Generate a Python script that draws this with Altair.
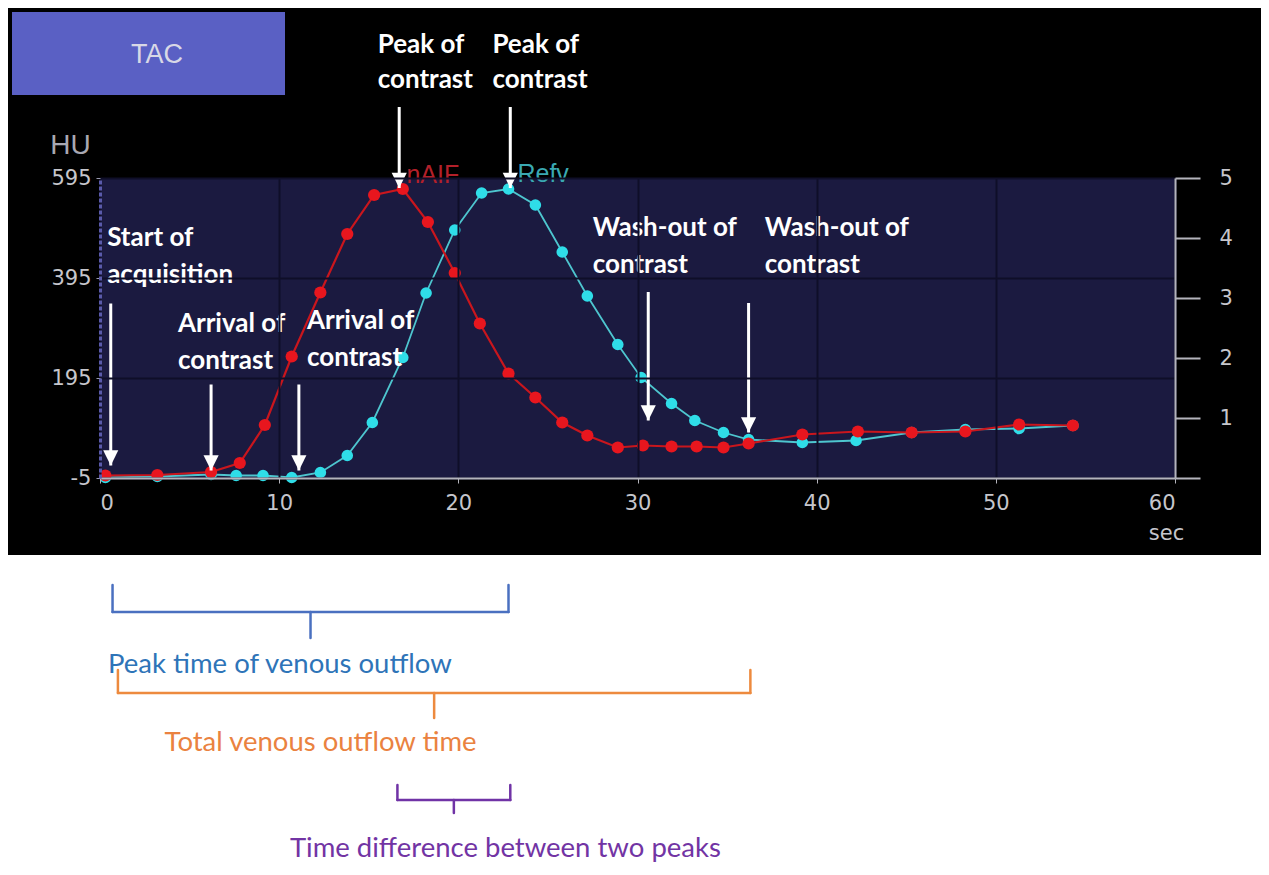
import altair as alt
import pandas as pd

# ---------------- data ----------------
t_naif = [0.3, 3.2, 6.2, 7.8, 9.2, 10.7, 12.3, 13.8, 15.3, 16.9, 18.3, 19.8, 21.2, 22.8, 24.3,
          25.8, 27.2, 28.9, 30.3, 31.9, 33.3, 34.8, 36.2, 39.2, 42.3, 45.3, 48.3, 51.3, 54.3]
hu_naif = [0, 1, 7, 25, 101, 238, 366, 483, 561, 573, 507, 405, 304, 204, 156,
           106, 80, 56, 60, 58, 58, 56, 64, 82, 88, 86, 88, 102, 100]

t_refv = [0.3, 3.2, 6.2, 7.6, 9.1, 10.7, 12.3, 13.8, 15.2, 16.9, 18.2, 19.8, 21.3, 22.8, 24.3,
          25.8, 27.2, 28.9, 30.2, 31.9, 33.2, 34.8, 36.2, 39.2, 42.2, 45.3, 48.3, 51.3, 54.3]
hu_refv = [-4, -2, 2, 0, 0, -4, 6, 40, 106, 236, 365, 491, 565, 573, 541,
           447, 359, 262, 196, 144, 110, 86, 72, 66, 70, 86, 92, 94, 100]

x_ticks = [0, 10, 20, 30, 40, 50, 60]
hu_ticks = [-5, 195, 395, 595]
right_ticks = [0, 1, 2, 3, 4, 5]

series_names = ["nAIF", "Refv"]
series_label_t = [17.1, 23.3]
series_label_hu = [602, 604]

arrow_t = [0.6, 6.2, 11.1, 16.7, 22.9, 30.6, 36.2]
arrow_tip = [20, 10, 10, 575, 575, 110, 86]
arrow_top = [344, 182, 182, 737, 737, 367, 345]

ann_text = ["Start of", "acquisition", "Arrival of", "contrast", "Arrival of", "contrast",
            "Peak of", "contrast", "Peak of", "contrast", "Wash-out of", "contrast",
            "Wash-out of", "contrast"]
ann_t = [0.4, 0.4, 4.35, 4.35, 11.55, 11.55, 15.5, 15.5, 21.9, 21.9, 27.5, 27.5, 37.1, 37.1]
ann_hu = [475, 401, 304, 230, 310, 236, 861, 791, 861, 791, 495, 421, 495, 421]

bracket_start = [0.7, 1.0, 16.6]
bracket_end = [22.8, 36.3, 22.9]
bracket_caption = ["Peak time of venous outflow", "Total venous outflow time",
                   "Time difference between two peaks"]
caption_t = [0.45, 3.6, 10.6]

# ---------------- styling ----------------
W, H = 1075, 300
NAVY = "#1b1a40"
GRID = "#0f0e28"
AXIS_GREY = "#b4b4bc"
LABEL_GREY = "#c6c6cc"

naif_df = pd.DataFrame({"t": t_naif, "hu": hu_naif})
refv_df = pd.DataFrame({"t": t_refv, "hu": hu_refv})
lab_df = pd.DataFrame({"t": series_label_t, "hu": series_label_hu, "name": series_names})
arrow_df = pd.DataFrame({"t": arrow_t, "tip": arrow_tip, "top": arrow_top})
ann_df = pd.DataFrame({"t": ann_t, "hu": ann_hu, "txt": ann_text})

xscale = alt.Scale(domain=[0, 60], nice=False, zero=False)
yscale = alt.Scale(domain=[-5, 595], nice=False, zero=False)

x_axis = alt.Axis(values=x_ticks, grid=True, gridColor=GRID, gridWidth=2,
                  domainColor=AXIS_GREY, domainWidth=2, tickColor=AXIS_GREY, tickSize=5,
                  labelColor=LABEL_GREY, labelFont="DejaVu Sans", labelFontSize=21,
                  labelPadding=9, title="sec", titleColor=LABEL_GREY, titleFont="DejaVu Sans",
                  titleFontSize=21, titleFontWeight="normal", titleX=1066, titleY=55,
                  titleAlign="center", titleBaseline="middle", zindex=1)
y_axis = alt.Axis(values=hu_ticks, grid=True, gridColor=GRID, gridWidth=2,
                  domainColor="#5a5aaa", domainWidth=3, domainDash=[4, 2],
                  tickColor="#9a9ab0", tickSize=4, labelColor=LABEL_GREY,
                  labelFont="DejaVu Sans", labelFontSize=21, labelPadding=5,
                  labelExpr="'' + datum.value",
                  title="HU", titleAngle=0, titleX=-30, titleY=-33, titleAlign="center",
                  titleBaseline="middle", titleFont="Liberation Sans", titleFontSize=28,
                  titleFontWeight="normal", titleColor="#a8a8b2", zindex=1)

X = alt.X("t:Q", scale=xscale, axis=x_axis)
Y = alt.Y("hu:Q", scale=yscale, axis=y_axis)

# backgrounds (black panel = chart background); white lower area
white_low = alt.Chart(pd.DataFrame({"a": [0]})).mark_rect(color="white").encode(
    x=alt.value(-120), x2=alt.value(1200), y=alt.value(377), y2=alt.value(720))
tac_box = alt.Chart(pd.DataFrame({"a": [0]})).mark_rect(color="#5a60c4").encode(
    x=alt.value(-88), x2=alt.value(185), y=alt.value(-166), y2=alt.value(-83))
tac_text = alt.Chart(pd.DataFrame({"txt": ["TAC"]})).mark_text(
    font="Liberation Sans", fontSize=27, color="#d8d8e6", baseline="middle", align="center"
).encode(x=alt.value(57), y=alt.value(-123), text="txt:N")

refv_line = alt.Chart(refv_df).mark_line(color="#4ec6cf", strokeWidth=1.8).encode(x=X, y=Y)
refv_pts = alt.Chart(refv_df).mark_point(filled=True, color="#2fdde8", size=135, opacity=1).encode(x=X, y=Y)
naif_line = alt.Chart(naif_df).mark_line(color="#c9161d", strokeWidth=2.2).encode(x=X, y=Y)
naif_pts = alt.Chart(naif_df).mark_point(filled=True, color="#e8161e", size=150, opacity=1).encode(x=X, y=Y)

labels = alt.Chart(lab_df).mark_text(font="Liberation Sans", fontSize=25, align="left",
                                     baseline="middle").encode(
    x=X, y=Y, text="name:N",
    color=alt.Color("name:N", scale=alt.Scale(domain=series_names, range=["#b3202a", "#3aa9b2"]),
                    legend=None))

shafts = alt.Chart(arrow_df).mark_rule(color="white", strokeWidth=3).encode(
    x=X, y=alt.Y("tip:Q", scale=yscale, axis=y_axis), y2="top:Q")
heads = alt.Chart(arrow_df).mark_point(shape="M-1,-2L1,-2L0,0Z", filled=True, color="white",
                                       size=230, opacity=1).encode(
    x=X, y=alt.Y("tip:Q", scale=yscale, axis=y_axis))

ann = alt.Chart(ann_df).mark_text(font="Lato", fontSize=26, fontWeight="bold", color="white",
                                  align="left", baseline="middle").encode(x=X, y=Y, text="txt:N")

# brackets under the panel
bracket_colors = ["#4a70c0", "#ed8a3e", "#7033a6"]
caption_colors = ["#2e74b8", "#ea8240", "#7234a4"]
bracket_px = [(407, 434, 460, 487), (492, 515, 540, 565), (607, 622, 635, 671)]
bracket_layers = []
for i in range(3):
    top, bot, tip, cy = bracket_px[i]
    bdf = pd.DataFrame({"start": [bracket_start[i]], "end": [bracket_end[i]],
                        "cap": [bracket_caption[i]], "capt": [caption_t[i]]})
    base = alt.Chart(bdf).transform_calculate(mid="(datum.start + datum.end) / 2")
    rule = dict(color=bracket_colors[i], strokeWidth=2.5, strokeCap="round")
    bracket_layers += [
        base.mark_rule(**rule).encode(x=alt.X("start:Q", scale=xscale, axis=x_axis), x2="end:Q",
                                      y=alt.value(bot)),
        base.mark_rule(**rule).encode(x=alt.X("start:Q", scale=xscale, axis=x_axis),
                                      y=alt.value(top), y2=alt.value(bot)),
        base.mark_rule(**rule).encode(x=alt.X("end:Q", scale=xscale, axis=x_axis),
                                      y=alt.value(top), y2=alt.value(bot)),
        base.mark_rule(**rule).encode(x=alt.X("mid:Q", scale=xscale, axis=x_axis),
                                      y=alt.value(bot), y2=alt.value(tip)),
        base.mark_text(font="Lato", fontSize=27.5, color=caption_colors[i], align="left",
                       baseline="middle").encode(x=alt.X("capt:Q", scale=xscale, axis=x_axis),
                                                 y=alt.value(cy), text="cap:N"),
    ]

main = alt.layer(white_low, tac_box, tac_text, refv_line, refv_pts, naif_line, naif_pts,
                 labels, shafts, heads, ann, *bracket_layers)

right_df = pd.DataFrame({"v": right_ticks})
right = alt.Chart(right_df).mark_point(opacity=0).encode(
    x=alt.value(0),
    y=alt.Y("v:Q", scale=alt.Scale(domain=[0, 5], nice=False),
            axis=alt.Axis(orient="right", values=right_ticks, grid=False, domainColor=AXIS_GREY,
                          domainWidth=2, tickColor=AXIS_GREY, tickWidth=2, tickSize=25,
                          labelColor=LABEL_GREY, labelFont="DejaVu Sans", labelFontSize=21,
                          labelPadding=19, labelExpr="datum.value == 0 ? '' : datum.label",
                          title="", zindex=1)))

chart = alt.layer(main, right).resolve_scale(y="independent").properties(
    width=W, height=H, background="black",
    padding={"left": 92, "top": 170, "right": 86, "bottom": 389},
    autosize=alt.AutoSizeParams(type="none"),
).configure_view(fill=NAVY, stroke="transparent")

chart.save("out.html", embed_options={"renderer": "svg", "actions": False})
